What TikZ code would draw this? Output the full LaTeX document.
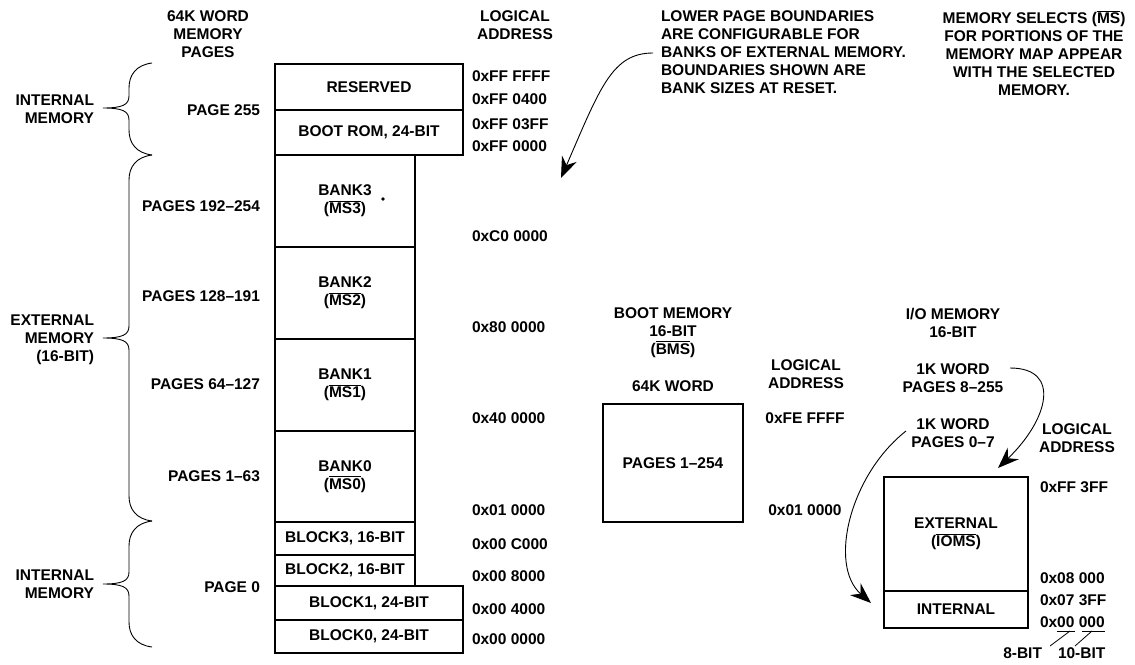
\documentclass[tikz,border=0pt]{standalone}
\usepackage{fontspec}
\setmainfont{Liberation Sans}
\usetikzlibrary{arrows.meta}
\newcommand\ovl[1]{\leavevmode\vbox{\hrule height 0.9pt\kern1.2pt\hbox{#1}}}
\newcommand\mybrace[3]{%
 \draw[bracestyle] (152,#1) .. controls (136,#1+2) and (129,#1+12) .. (129,#1+25)
   -- (129,#2-12) .. controls (129,#2-3) and (122,#2) .. (103,#2)
   .. controls (122,#2) and (129,#2+3) .. (129,#2+12)
   -- (129,#3-25) .. controls (129,#3-12) and (136,#3-2) .. (152,#3);}
\tikzset{
 every node/.style={font=\fontsize{15.5}{18}\selectfont\bfseries, inner sep=0pt, outer sep=0pt},
 membox/.style={draw, line width=1.6pt, align=center},
 arr/.style={line width=0.9pt, -{Stealth[length=21pt,width=16pt,inset=7pt]}},
 bracestyle/.style={line width=0.9pt},
 thinline/.style={line width=0.8pt},
}
\begin{document}
\begin{tikzpicture}[x=1pt,y=-1pt]
\useasboundingbox (0,0) rectangle (1135,664);

% headers
\node[align=center, anchor=north] (hpages) at (208,10.5) {64K WORD\\MEMORY\\PAGES};
\node[align=center, anchor=north] (hlog) at (515,10.5) {LOGICAL\\ADDRESS};
\node[align=left, anchor=north west] (note) at (661,10.5) {LOWER PAGE BOUNDARIES\\ARE CONFIGURABLE FOR\\BANKS OF EXTERNAL MEMORY.\\BOUNDARIES SHOWN ARE\\BANK SIZES AT RESET.};
\node[align=center, anchor=north] (msnote) at (1034,10.5) {MEMORY SELECTS (\ovl{MS})\\FOR PORTIONS OF THE\\MEMORY MAP APPEAR\\WITH THE SELECTED\\MEMORY.};

% left labels
\node[align=right, anchor=north east] (int1) at (94,94.5) {INTERNAL\\MEMORY};
\node[align=right, anchor=north east] (ext) at (94,314.5) {EXTERNAL\\MEMORY\\(16-BIT)};
\node[align=right, anchor=north east] (int2) at (94,569.5) {INTERNAL\\MEMORY};

\mybrace{63}{108}{155}
\mybrace{155}{338}{521}
\mybrace{521}{584}{647}

% page labels
\node[anchor=base east] (p255) at (260,115.5) {PAGE 255};
\node[anchor=base east] (p192) at (260,211.5) {PAGES 192--254};
\node[anchor=base east] (p128) at (260,301.5) {PAGES 128--191};
\node[anchor=base east] (p64) at (260,389) {PAGES 64--127};
\node[anchor=base east] (p1) at (260,481) {PAGES 1--63};
\node[anchor=base east] (p0) at (260,592) {PAGE 0};

% main column
\node[membox, anchor=north west, minimum width=188pt, minimum height=46pt] (res) at (275,64) {RESERVED};
\node[membox, anchor=north west, minimum width=188pt, minimum height=45pt] (brom) at (275,110) {BOOT ROM, 24-BIT};
\node[membox, anchor=north west, minimum width=140pt, minimum height=92pt] (bank3) at (275,155) {BANK3\\(\ovl{MS3})};
\node[membox, anchor=north west, minimum width=140pt, minimum height=92pt] (bank2) at (275,247) {BANK2\\(\ovl{MS2})};
\node[membox, anchor=north west, minimum width=140pt, minimum height=92pt] (bank1) at (275,339) {BANK1\\(\ovl{MS1})};
\node[membox, anchor=north west, minimum width=140pt, minimum height=91pt] (bank0) at (275,431) {BANK0\\(\ovl{MS0})};
\node[membox, anchor=north west, minimum width=140pt, minimum height=33pt] (blk3) at (275,522) {BLOCK3, 16-BIT};
\node[membox, anchor=north west, minimum width=140pt, minimum height=31pt] (blk2) at (275,555) {BLOCK2, 16-BIT};
\node[membox, anchor=north west, minimum width=188pt, minimum height=34pt] (blk1) at (275,586) {BLOCK1, 24-BIT};
\node[membox, anchor=north west, minimum width=188pt, minimum height=33pt] (blk0) at (275,620) {BLOCK0, 24-BIT};
\fill (383,199) circle (1.8pt);

% addresses
\node[anchor=base west] (a1) at (472,81.5) {0xFF FFFF};
\node[anchor=base west] (a2) at (472,104) {0xFF 0400};
\node[anchor=base west] (a3) at (472,129) {0xFF 03FF};
\node[anchor=base west] (a4) at (472,151.5) {0xFF 0000};
\node[anchor=base west] (a5) at (472,241) {0xC0 0000};
\node[anchor=base west] (a6) at (472,332.5) {0x80 0000};
\node[anchor=base west] (a7) at (472,423.5) {0x40 0000};
\node[anchor=base west] (a8) at (472,515.5) {0x01 0000};
\node[anchor=base west] (a9) at (472,549) {0x00 C000};
\node[anchor=base west] (a10) at (472,581) {0x00 8000};
\node[anchor=base west] (a11) at (472,614) {0x00 4000};
\node[anchor=base west] (a12) at (472,644) {0x00 0000};

% note arrow
\coordinate (na) at (653,53);
\coordinate (nt) at (561,178);
\draw[arr] (na) .. controls (612,53) and (600,88) .. (nt);

% boot memory
\node[align=center, anchor=north] (bmh) at (673,307.5) {BOOT MEMORY\\16-BIT\\(\ovl{BMS})};
\node[anchor=base] (b64) at (673,391.5) {64K WORD};
\node[membox, anchor=north west, minimum width=140pt, minimum height=118pt] (bbox) at (603,404) {PAGES 1--254};
\node[align=center, anchor=north] (blog) at (806,359.5) {LOGICAL\\ADDRESS};
\node[anchor=base] (bfe) at (805,423.5) {0xFE FFFF};
\node[anchor=base] (b01) at (805,515) {0x01 0000};

% I/O memory
\node[align=center, anchor=north] (ioh) at (953,308.5) {I/O MEMORY\\16-BIT};
\node[align=center, anchor=north] (pg8) at (953,363.5) {1K WORD\\PAGES 8--255};
\node[align=center, anchor=north] (pg0) at (953,418.5) {1K WORD\\PAGES 0--7};
\node[align=center, anchor=north] (iolog) at (1077,423.5) {LOGICAL\\ADDRESS};
\node[membox, anchor=north west, minimum width=144pt, minimum height=114pt] (ioext) at (884,477) {EXTERNAL\\(\ovl{IOMS})};
\node[membox, anchor=north west, minimum width=144pt, minimum height=37pt] (ioint) at (884,591) {INTERNAL};
\node[anchor=base west] (i1) at (1040,492.5) {0xFF 3FF};
\node[anchor=base west] (i2) at (1040,583.5) {0x08 000};
\node[anchor=base west] (i3) at (1040,605.5) {0x07 3FF};
\node[anchor=base west] (i4) at (1040,627.5) {0x00 000};
\node[anchor=base east] (b8) at (1042,658.5) {8-BIT};
\node[anchor=base west] (b10) at (1058,658.5) {10-BIT};
\draw[thinline] (1057,631) -- (1075,631);
\draw[thinline] (1070,631) -- (1050,646);
\draw[thinline] (1082,631) -- (1105,631);
\draw[thinline] (1092,631) -- (1075,646);

\coordinate (ia) at (1010,368);
\coordinate (ib) at (998,468);
\draw[arr] (ia) .. controls (1062,368) and (1048,420) .. (ib);
\coordinate (ic) at (906,431);
\coordinate (id) at (871,603);
\draw[arr] (ic) .. controls (850,475) and (828,565) .. (id);
\end{tikzpicture}
\end{document}
